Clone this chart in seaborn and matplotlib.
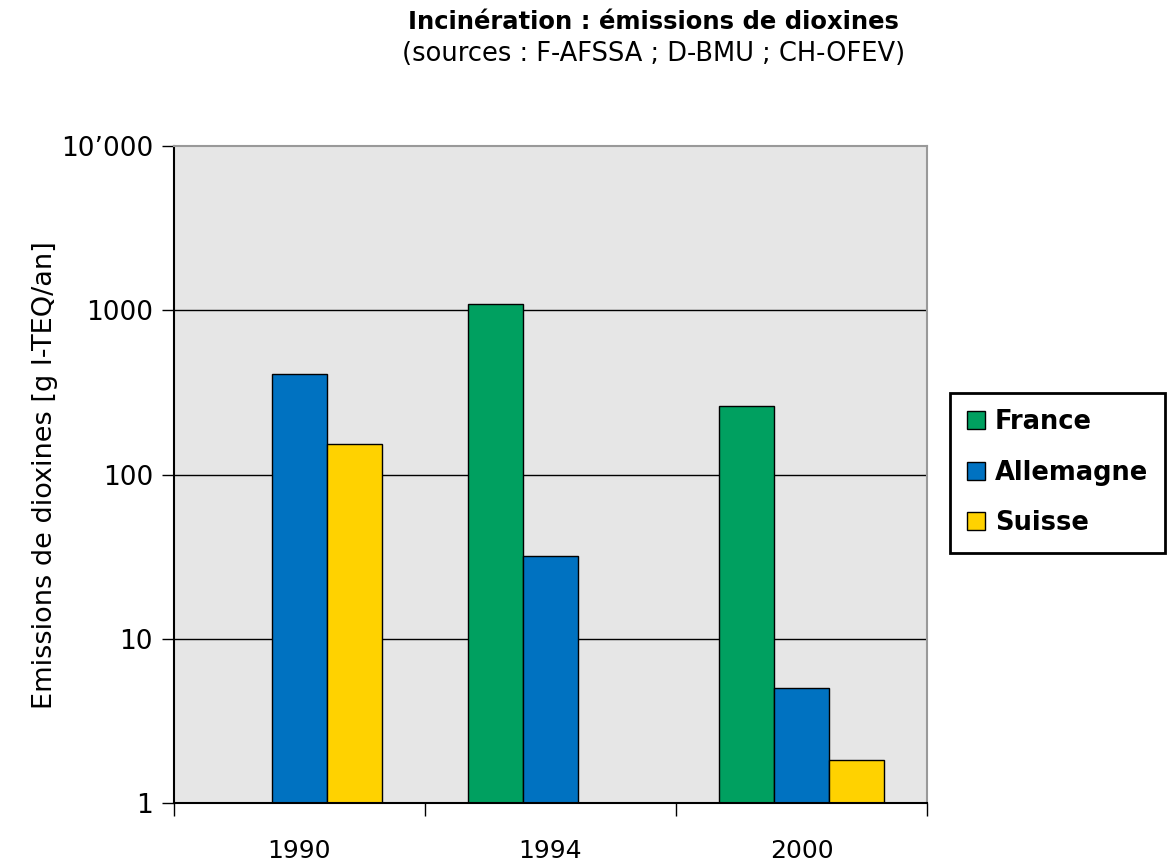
import pandas as pd
import seaborn as sns
import matplotlib.pyplot as plt
from matplotlib.ticker import FixedLocator, NullFormatter

# Data (log scale, g I-TEQ/an)
years = ['1990', '1994', '2000']
countries = ['France', 'Allemagne', 'Suisse']
france = [None, 1090, 260]
allemagne = [410, 32, 5.0]
suisse = [153, None, 1.83]
colors = ['#00A060', '#0072C1', '#FFD200']
ytick_vals = [1, 10, 100, 1000, 10000]
ytick_labels = ['1', '10', '100', '1000', "10\u2019000"]

rows = []
for name, vals in zip(countries, [france, allemagne, suisse]):
    for y, v in zip(years, vals):
        if v is not None:
            rows.append({'annee': y, 'pays': name, 'valeur': v})
df = pd.DataFrame(rows)

sns.set_style('white')
plt.rcParams['font.family'] = ['DejaVu Sans']
plt.rcParams['text.color'] = 'black'
plt.rcParams['axes.labelcolor'] = 'black'
plt.rcParams['xtick.color'] = 'black'
plt.rcParams['ytick.color'] = 'black'

fig = plt.figure(figsize=(11.75, 8.65), dpi=100)
ax = fig.add_axes([0.148, 0.0717, 0.641, 0.7593])

sns.barplot(data=df, x='annee', y='valeur', hue='pays', order=years,
            hue_order=countries, palette=colors, width=0.66,
            edgecolor='black', linewidth=1, saturation=1, ax=ax, legend=True)
ax.set_yscale('log')
ax.set_ylim(1, 10000)
ax.set_xlim(-0.5, 2.5)
ax.set_facecolor('#E6E6E6')

ax.set_yticks(ytick_vals)
ax.set_yticklabels(ytick_labels, fontsize=19)
ax.yaxis.set_minor_locator(FixedLocator([]))
ax.yaxis.grid(True, color='black', linewidth=1)
ax.yaxis.get_gridlines()[-1].set_visible(False)
ax.set_axisbelow(True)
ax.tick_params(axis='y', which='major', direction='out', length=9, width=1, left=True, pad=6)

ax.xaxis.set_minor_locator(FixedLocator([-0.5, 0.5, 1.5, 2.5]))
ax.xaxis.set_minor_formatter(NullFormatter())
ax.tick_params(axis='x', which='major', length=0, pad=26, labelsize=18)
ax.tick_params(axis='x', which='minor', direction='out', length=9, width=1, bottom=True)

for s in ['top', 'right']:
    ax.spines[s].set_color('#999999')
    ax.spines[s].set_linewidth(1.5)
for s in ['left', 'bottom']:
    ax.spines[s].set_color('black')
    ax.spines[s].set_linewidth(1.5)

ax.set_xlabel('')
ax.set_ylabel('Emissions de dioxines [g I-TEQ/an]', fontsize=19.5, labelpad=2)

handles, labels = ax.get_legend_handles_labels()
ax.get_legend().remove()
leg = fig.legend(handles, labels, loc='upper left', bbox_to_anchor=(0.8085, 0.546),
                 borderaxespad=0, frameon=True, fancybox=False, framealpha=1,
                 handlelength=0.7, handleheight=0.7, handletextpad=0.4,
                 labelspacing=0.95, borderpad=0.65,
                 prop={'size': 18.5, 'weight': 'bold'})
leg.get_frame().set_edgecolor('black')
leg.get_frame().set_linewidth(2)

fig.text(0.556, 0.975, 'Incin\u00e9ration : \u00e9missions de dioxines',
         ha='center', va='center', fontsize=17.5, fontweight='bold')
fig.text(0.556, 0.937, '(sources : F-AFSSA ; D-BMU ; CH-OFEV)',
         ha='center', va='center', fontsize=18.5)

fig.savefig('out.png', dpi=100)
